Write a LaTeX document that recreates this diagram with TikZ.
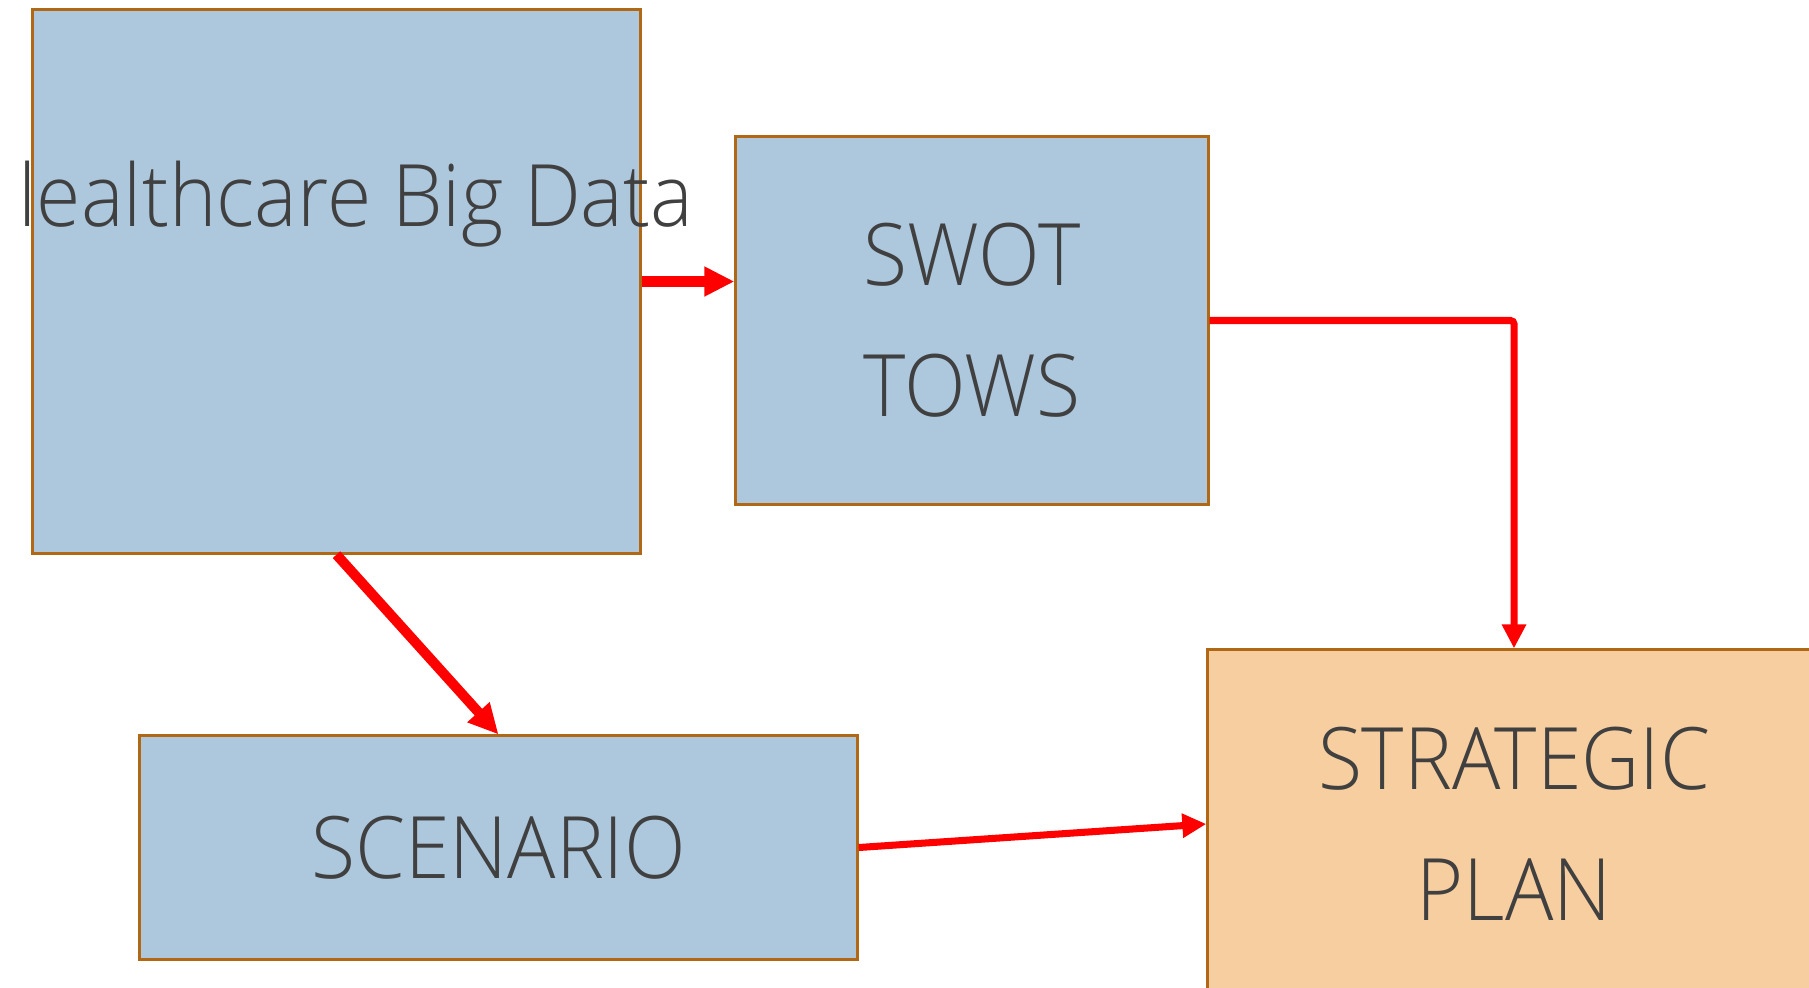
\documentclass[tikz,border=0pt]{standalone}
\usepackage{fontspec}
\setmainfont{Open Sans}[UprightFont={* Light}, FakeStretch=0.935]
\usetikzlibrary{arrows.meta}

\definecolor{boxblue}{RGB}{173,199,221}
\definecolor{boxorange}{RGB}{247,206,160}
\definecolor{boxedge}{RGB}{176,104,20}
\definecolor{textgray}{RGB}{64,64,64}

\tikzset{
    box/.style={draw=boxedge, line width=0.85pt, text=textgray, align=center,
        inner sep=0pt, font=\fontsize{24.5}{37.3}\selectfont},
    title/.style={text=textgray, inner sep=0pt, font=\fontsize{24.5}{37.3}\selectfont},
    link/.style={draw=red, line width=2pt, -{Triangle[length=0.24cm,width=0.23cm]}},
    biglink/.style={draw=red, line width=2.85pt, -{Triangle[length=0.3cm,width=0.28cm]}}
}

\begin{document}
\begin{tikzpicture}[x=0.01cm,y=-0.01cm]
            \useasboundingbox (0,0) rectangle (1809,987);
            \clip (0,0) rectangle (1809,987);

            \node[box, fill=boxblue, minimum width=6.07cm, minimum height=5.43cm] (data) at (336.5,281.5) {};
            \node[title, anchor=base west] (datatitle) at (18,226) {lealthcare Big Data};
            \node[box, fill=boxblue, minimum width=4.72cm, minimum height=3.67cm] (swot) at (972,320.5) {SWOT\\TOWS};
            \node[box, fill=boxblue, minimum width=7.17cm, minimum height=2.23cm] (scenario) at (498.5,847.5) {SCENARIO};
            \node[box, fill=boxorange, minimum width=6.12cm, minimum height=3.48cm] (plan) at (1514,824) {STRATEGIC\\PLAN};

            % arrows
            \draw[biglink] (data.east) -- (data.east -| swot.west);
            \draw[biglink] (data.south) -- (scenario.north);
            \draw[link, rounded corners=1pt] (swot.east) -| (plan.north);
            \draw[link] (scenario.east) -- (plan.west);
        \end{tikzpicture}
\end{document}
